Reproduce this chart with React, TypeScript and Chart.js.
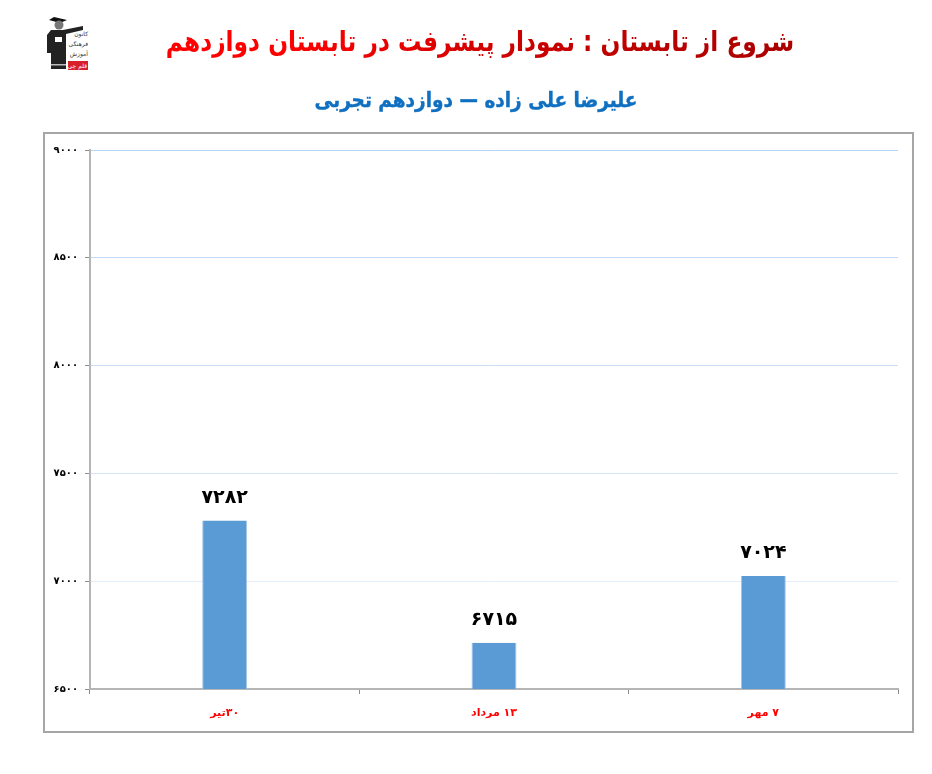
import { Chart, registerables } from 'chart.js'
import { useEffect, useRef } from 'react'

Chart.register(...registerables)

const TITLE = 'شروع از تابستان : نمودار پیشرفت در تابستان دوازدهم'
const SUBTITLE = 'علیرضا علی زاده — دوازدهم تجربی'
const DATES = ['۳۰تیر', '۱۳ مرداد', '۷ مهر']
const SCORES = [7282, 6715, 7024]
const Y_MIN = 6500
const Y_MAX = 9000
const Y_STEP = 500
const GRID_COLORS = ['#e8eef7', '#e4eefa', '#d6e6f8', '#cce0f7', '#c2daf6', '#b6d4f5']

const FONT = '"DejaVu Sans", sans-serif'
const toPersian = (n: number) => String(n).replace(/\d/g, d => '۰۱۲۳۴۵۶۷۸۹'[+d])

const barLabels = {
  id: 'barLabels',
  afterDatasetsDraw(chart: Chart) {
    const ctx = chart.ctx
    ctx.save()
    ctx.font = 'bold 19px ' + FONT
    ctx.fillStyle = '#000'
    ctx.textAlign = 'center'
    ctx.textBaseline = 'bottom'
    chart.getDatasetMeta(0).data.forEach((bar, i) => {
      ctx.fillText(toPersian(SCORES[i]), bar.x, bar.y - 13)
    })
    ctx.restore()
  },
}

function Logo() {
  return (
    <svg width={44} height={56} viewBox="0 0 44 56" style={{ position: 'absolute', left: 45, top: 15 }}>
      <path d="M9 2 L22 5 L15 8 L4 5 Z" fill="#111" />
      <circle cx="14" cy="10" r="4.5" fill="#777" />
      <path d="M6 15 L18 15 L38 11 L38 15 L21 19 L21 54 L6 54 L6 38 L2 38 L2 20 Z" fill="#222" />
      <rect x="6" y="49" width="15" height="1.5" fill="#bbb" />
      <rect x="10" y="22" width="7" height="5" fill="#fff" />
      <text x="43" y="21" fontSize="6" textAnchor="end" fontFamily={FONT} fill="#333">کانون</text>
      <text x="43" y="31" fontSize="6" textAnchor="end" fontFamily={FONT} fill="#333">فرهنگی</text>
      <text x="43" y="41" fontSize="6" textAnchor="end" fontFamily={FONT} fill="#333">آموزش</text>
      <rect x="23" y="46" width="20" height="9" fill="#d8202a" />
      <text x="42" y="53" fontSize="6" textAnchor="end" fontFamily={FONT} fill="#fff">قلم چی</text>
    </svg>
  )
}

export default function App() {
  const canvasRef = useRef<HTMLCanvasElement>(null)
  const chartRef = useRef<Chart | null>(null)

  useEffect(() => {
    if (!canvasRef.current) return
    if (chartRef.current) chartRef.current.destroy()

    chartRef.current = new Chart(canvasRef.current, {
      type: 'bar',
      data: {
        labels: DATES,
        datasets: [
          {
            data: SCORES,
            backgroundColor: '#5b9bd5',
            borderColor: '#a5c6e8',
            borderWidth: { left: 1, right: 1 },
            categoryPercentage: 1,
            barPercentage: 0.167,
          },
        ],
      },
      options: {
        responsive: false,
        animation: false,
        layout: { padding: { top: 16, right: 14, bottom: 0, left: 0 } },
        plugins: { legend: { display: false }, title: { display: false }, tooltip: { enabled: false } },
        scales: {
          x: {
            afterFit: scale => { scale.height = 42 },
            ticks: { color: '#ff0000', font: { family: FONT, size: 11, weight: 'bold' }, padding: 13, maxRotation: 0 },
            grid: { display: true, drawOnChartArea: false, tickLength: 5, tickColor: '#8c8c8c', offset: true },
            border: { color: '#b5b5b5', width: 2 },
          },
          y: {
            min: Y_MIN,
            max: Y_MAX,
            afterFit: scale => { scale.width = 45 },
            ticks: {
              stepSize: Y_STEP,
              color: '#000',
              font: { family: FONT, size: 10, weight: 'bold' },
              padding: 7,
              callback: v => toPersian(Number(v)),
            },
            grid: {
              color: ctx => GRID_COLORS[ctx.index] ?? '#cce0f7',
              tickColor: '#8c8c8c',
              tickLength: 5,
            },
            border: { color: '#b5b5b5', width: 2 },
          },
        },
      },
      plugins: [barLabels],
    })
    return () => { if (chartRef.current) chartRef.current.destroy() }
  }, [])

  return (
    <div style={{ position: 'absolute', left: 0, top: 0, width: 932, height: 774, overflow: 'hidden', background: '#fff' }}>
      <Logo />
      <div
        dir="rtl"
        style={{
          position: 'absolute', left: 20, width: 920, top: 19, textAlign: 'center',
          font: 'bold 28px ' + FONT, lineHeight: '46px', whiteSpace: 'nowrap',
          transform: 'scaleX(0.833)',
          background: 'linear-gradient(to left, #a80000 8%, #cc0000 45%, #ff0000 75%)',
          WebkitBackgroundClip: 'text', backgroundClip: 'text', color: 'transparent',
        }}
      >
        {TITLE}
      </div>
      <div
        dir="rtl"
        style={{
          position: 'absolute', left: 176, width: 600, top: 84, textAlign: 'center',
          font: 'bold 21px ' + FONT, lineHeight: '32px', color: '#0f6fc0', whiteSpace: 'nowrap',
          transform: 'scaleX(0.88)', WebkitTextStroke: '0.4px #0f6fc0',
        }}
      >
        {SUBTITLE}
      </div>
      <div style={{ position: 'absolute', left: 43, top: 132, width: 867, height: 597, border: '2px solid #a6a6a6' }}>
        <canvas ref={canvasRef} dir="rtl" width={867} height={597} style={{ display: 'block' }} />
      </div>
    </div>
  )
}
